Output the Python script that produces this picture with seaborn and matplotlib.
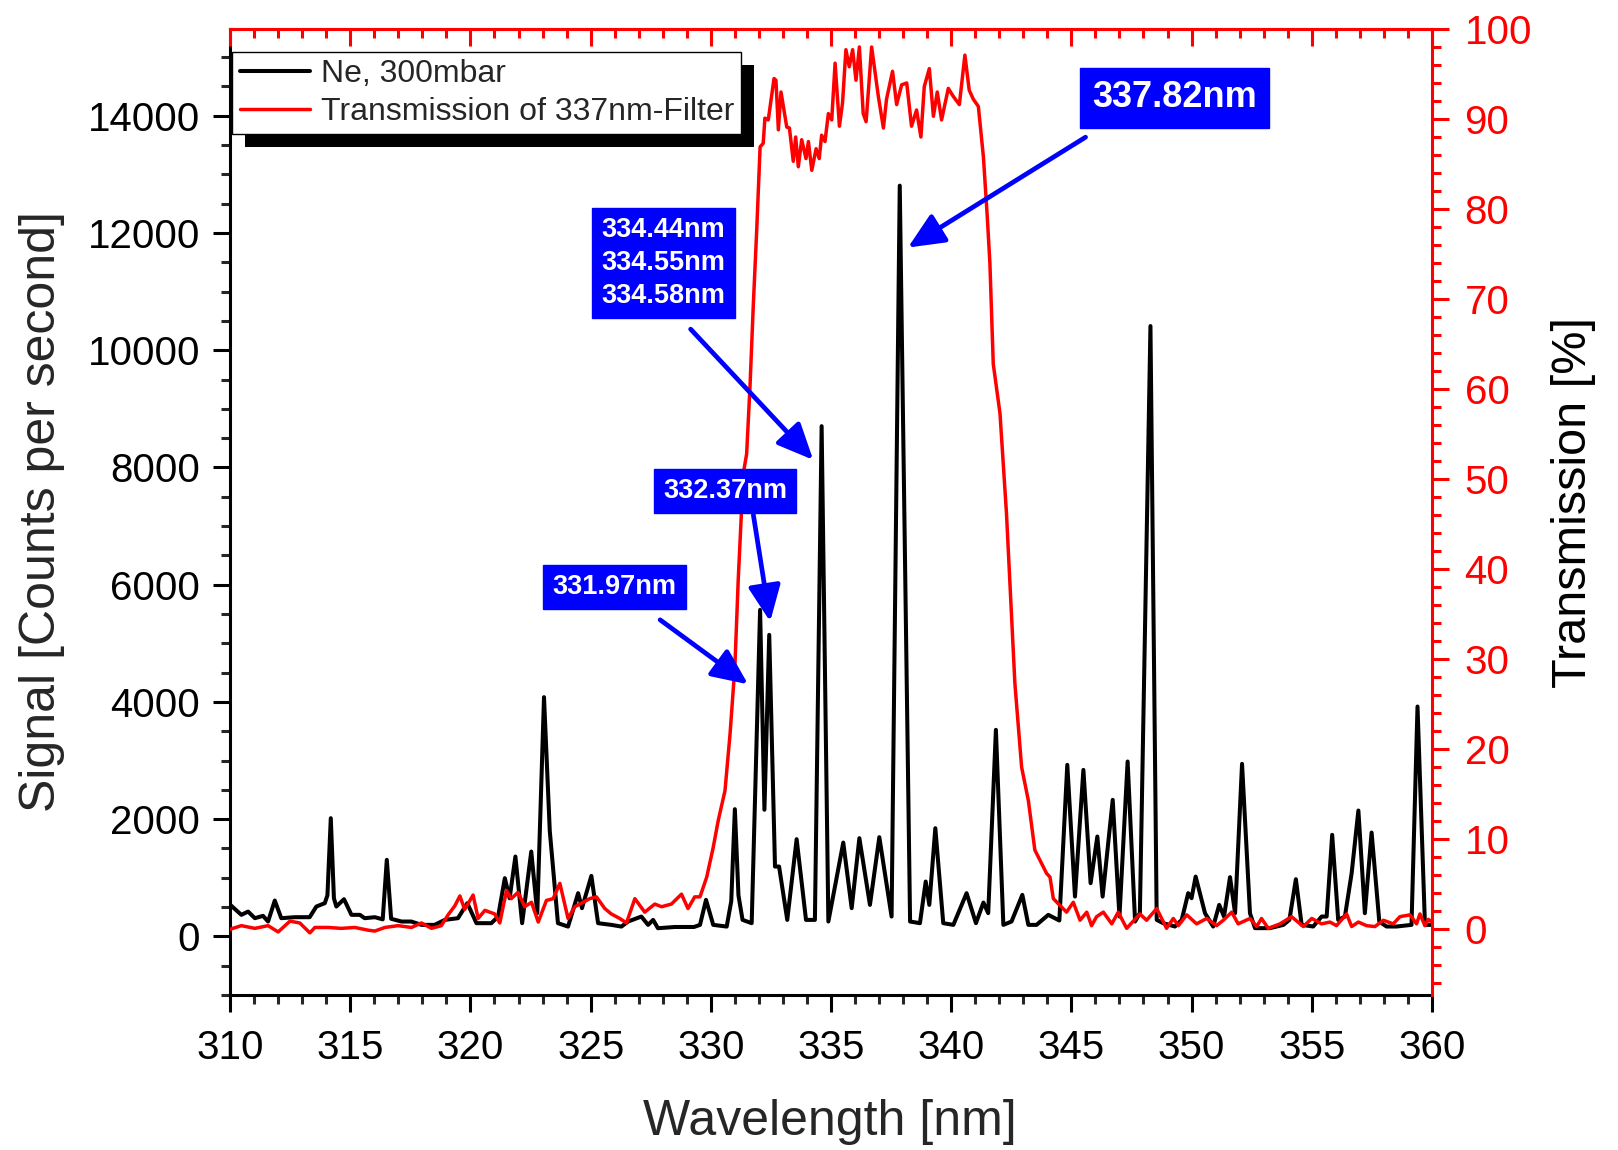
import matplotlib
matplotlib.use("Agg")
import numpy as np
import pandas as pd
import matplotlib.pyplot as plt
import seaborn as sns
from matplotlib.patches import Rectangle
from matplotlib.transforms import IdentityTransform
from matplotlib.ticker import MultipleLocator
from matplotlib.lines import Line2D

# ---------------- data ----------------
ne_wavelength = [310.0, 310.47, 310.75, 311.03, 311.37, 311.58, 311.86, 312.13, 312.69, 313.31,
                 313.59, 313.94, 314.05, 314.19, 314.32, 314.42, 314.74, 315.05, 315.4, 315.6,
                 316.02, 316.35, 316.52, 316.7, 317.13, 317.54, 317.96, 318.51, 318.93, 319.48,
                 319.87, 320.25, 320.87, 321.15, 321.43, 321.63, 321.87, 322.15, 322.53, 322.78,
                 323.06, 323.3, 323.64, 324.06, 324.48, 324.64, 325.03, 325.31, 325.86, 326.28,
                 326.56, 327.11, 327.39, 327.6, 327.8, 328.5, 329.3, 329.55, 329.8, 330.1,
                 330.66, 330.85, 331.0, 331.15, 331.32, 331.7, 332.05, 332.23, 332.43, 332.67,
                 332.84, 333.18, 333.57, 333.96, 334.33, 334.61, 334.89, 335.51, 335.86, 336.18,
                 336.62, 337.01, 337.52, 337.86, 338.29, 338.7, 338.94, 339.09, 339.34, 339.67,
                 340.09, 340.64, 341.03, 341.34, 341.54, 341.86, 342.17, 342.51, 342.96, 343.21,
                 343.55, 344.04, 344.5, 344.83, 345.15, 345.5, 345.8, 346.08, 346.3, 346.72,
                 347.0, 347.34, 347.65, 347.85, 348.29, 348.55, 348.82, 349.31, 349.59, 349.86,
                 350.0, 350.17, 350.56, 350.9, 351.15, 351.35, 351.6, 351.81, 352.1, 352.43,
                 352.64, 353.26, 353.82, 354.07, 354.34, 354.58, 355.06, 355.41, 355.62, 355.85,
                 356.1, 356.38, 356.66, 356.94, 357.21, 357.49, 357.81, 358.11, 358.53, 359.15,
                 359.4, 359.71, 360.0]
ne_signal = [540, 367, 423, 310, 350, 253, 611, 310, 327, 327,
             509, 566, 700, 2016, 650, 509, 634, 367, 367, 310,
             327, 290, 1305, 300, 253, 253, 196, 196, 281, 310,
             566, 225, 225, 338, 993, 651, 1362, 225, 1447, 396,
             4081, 1800, 225, 167, 737, 481, 1032, 225, 196, 167,
             253, 338, 196, 281, 139, 160, 160, 196, 623, 196,
             167, 600, 2170, 700, 281, 225, 5570, 2160, 5144, 1191,
             1191, 281, 1658, 281, 281, 8704, 253, 1600, 481, 1675,
             537, 1692, 338, 12807, 253, 225, 935, 537, 1845, 225,
             196, 737, 225, 577, 396, 3523, 196, 253, 708, 196,
             196, 367, 270, 2926, 679, 2840, 907, 1703, 679, 2329,
             338, 2983, 253, 400, 10412, 281, 225, 168, 281, 737,
             651, 1020, 395, 168, 537, 338, 1010, 395, 2943, 395,
             140, 140, 196, 281, 975, 196, 168, 338, 338, 1732,
             281, 338, 1078, 2147, 395, 1771, 253, 168, 168, 196,
             3921, 196, 196]

filter_wavelength = [310.0, 310.47, 311.03, 311.58, 312.0, 312.49, 312.9, 313.32, 313.53, 314.08,
                     314.63, 315.19, 315.74, 316.02, 316.44, 316.99, 317.55, 317.96, 318.38, 318.79,
                     319.07, 319.35, 319.56, 319.76, 320.11, 320.32, 320.6, 321.01, 321.22, 321.5,
                     321.7, 321.98, 322.26, 322.54, 322.82, 323.16, 323.44, 323.72, 324.06, 324.34,
                     324.69, 324.96, 325.24, 325.59, 325.86, 326.21, 326.49, 326.84, 327.25, 327.67,
                     327.95, 328.36, 328.78, 329.05, 329.33, 329.55, 329.83, 330.1, 330.31, 330.59,
                     330.8, 331.0, 331.14, 331.35, 331.49, 331.63, 331.77, 331.91, 332.05, 332.18,
                     332.25, 332.39, 332.63, 332.71, 332.81, 332.92, 333.16, 333.27, 333.43, 333.53,
                     333.64, 333.78, 333.96, 334.06, 334.2, 334.38, 334.51, 334.61, 334.75, 334.89,
                     335.03, 335.17, 335.35, 335.48, 335.62, 335.76, 335.9, 336.04, 336.18, 336.34,
                     336.46, 336.69, 336.97, 337.18, 337.31, 337.56, 337.73, 337.94, 338.15, 338.35,
                     338.56, 338.74, 338.88, 339.09, 339.26, 339.42, 339.6, 339.88, 340.09, 340.34,
                     340.57, 340.75, 340.92, 341.13, 341.34, 341.5, 341.61, 341.75, 342.03, 342.3,
                     342.65, 342.93, 343.21, 343.48, 343.97, 344.11, 344.25, 344.8, 345.08, 345.36,
                     345.64, 345.84, 346.05, 346.33, 346.68, 346.95, 347.3, 347.85, 348.13, 348.55,
                     348.96, 349.24, 349.45, 349.8, 350.21, 350.63, 351.04, 351.32, 351.67, 351.94,
                     352.43, 352.71, 352.91, 353.19, 353.68, 354.16, 354.65, 355.0, 355.41, 355.76,
                     356.03, 356.45, 356.66, 356.94, 357.28, 357.63, 357.98, 358.39, 358.67, 359.09,
                     359.36, 359.5, 359.71, 359.85, 360.0]
filter_transmission = [0.0, 0.4, 0.1, 0.4, -0.3, 0.9, 0.7, -0.4, 0.2, 0.2,
                       0.1, 0.2, -0.1, -0.2, 0.2, 0.4, 0.2, 0.7, 0.1, 0.4,
                       1.6, 2.6, 3.7, 2.2, 3.8, 1.2, 2.1, 1.7, 0.7, 4.3,
                       3.4, 4.1, 2.5, 3.0, 0.8, 3.2, 3.4, 5.1, 1.2, 2.5,
                       3.0, 3.4, 3.6, 2.3, 1.7, 1.2, 0.7, 3.4, 1.9, 2.8,
                       2.5, 2.8, 3.9, 2.3, 3.6, 3.6, 5.8, 9.1, 12.1, 15.4,
                       21.7, 29.1, 38.8, 50.6, 52.8, 60.3, 69.5, 77.7, 86.9, 87.3,
                       90.1, 89.9, 94.5, 94.3, 88.8, 93.0, 89.1, 89.0, 85.3, 88.0,
                       84.7, 87.7, 85.6, 87.5, 84.3, 86.7, 85.6, 88.2, 87.5, 90.6,
                       89.9, 96.2, 89.2, 91.8, 97.7, 95.8, 97.7, 94.3, 98.0, 90.6,
                       89.7, 98.0, 92.5, 89.0, 92.2, 95.3, 91.6, 93.8, 94.0, 89.2,
                       91.0, 88.0, 93.6, 95.6, 90.3, 93.0, 89.9, 93.4, 92.5, 91.6,
                       97.1, 93.2, 92.2, 91.4, 85.8, 79.2, 74.0, 62.8, 57.3, 46.2,
                       27.3, 18.0, 14.3, 8.8, 6.2, 5.8, 3.4, 1.9, 3.0, 1.0,
                       1.9, 0.4, 1.4, 1.9, 0.6, 1.9, 0.1, 1.7, 1.0, 2.3,
                       0.1, 1.2, 0.4, 1.6, 0.6, 1.2, 0.4, 1.0, 1.9, 0.6,
                       1.2, 0.3, 1.2, 0.1, 0.6, 1.4, 0.3, 1.2, 0.6, 0.8,
                       0.4, 1.7, 0.3, 0.8, 0.4, 0.3, 1.0, 0.6, 1.4, 1.6,
                       0.6, 1.7, 0.4, 1.1, 0.8]

series_labels = ["Ne, 300mbar", "Transmission of 337nm-Filter"]

# annotation boxes: text, box centre (wavelength, signal), font size
note_texts = ["337.82nm", "334.44nm\n334.55nm\n334.58nm", "332.37nm", "331.97nm"]
note_box_x = [349.30, 328.03, 330.60, 326.00]
note_box_y = [14305, 11490, 7602, 5957]
note_sizes = [26, 19.5, 19.5, 19.5]
# arrows: start (wavelength, signal) -> tip (wavelength, signal)
arrow_start_x = [345.59, 329.16, 331.77, 327.89]
arrow_start_y = [13634, 10359, 7191, 5400]
arrow_tip_x = [338.20, 334.26, 332.47, 331.55]
arrow_tip_y = [11751, 8129, 5371, 4300]

# ---------------- style ----------------
sns.set_theme(style="ticks")
plt.rcParams["font.family"] = ["Liberation Sans", "DejaVu Sans"]
plt.rcParams["axes.linewidth"] = 2.2

fig = plt.figure(figsize=(16.18, 11.5), dpi=100)
ax = fig.add_axes([0.1422, 0.1348, 0.7428, 0.8400])

ne_df = pd.DataFrame({"Wavelength": ne_wavelength, "Signal": ne_signal})
tr_df = pd.DataFrame({"Wavelength": filter_wavelength, "Transmission": filter_transmission})

sns.lineplot(data=ne_df, x="Wavelength", y="Signal", ax=ax, color="black",
             lw=2.9, estimator=None, sort=False, legend=False)
ax2 = ax.twinx()
sns.lineplot(data=tr_df, x="Wavelength", y="Transmission", ax=ax2, color="red",
             lw=2.5, estimator=None, sort=False, legend=False)

ax.set_xlim(310, 360)
ax.set_ylim(-1000, 15480)
ax2.set_ylim(-7.3, 100)

ax.xaxis.set_major_locator(MultipleLocator(5))
ax.xaxis.set_minor_locator(MultipleLocator(1))
ax.set_yticks(np.arange(0, 14001, 2000))
ax.yaxis.set_minor_locator(MultipleLocator(500))
ax2.set_yticks(np.arange(0, 101, 10))
ax2.yaxis.set_minor_locator(MultipleLocator(2))

ax.tick_params(axis="x", which="major", direction="out", length=12.5, width=2.2,
               labelsize=29, pad=12, colors="black", top=False)
ax.tick_params(axis="x", which="minor", direction="out", length=6.5, width=2.2, top=False)
ax.tick_params(axis="y", which="major", direction="out", length=12.5, width=2.2,
               labelsize=29, pad=9, colors="black", right=False)
ax.tick_params(axis="y", which="minor", direction="out", length=6.5, width=2.2, right=False)
ax2.tick_params(axis="y", which="major", direction="out", length=12.5, width=2.2,
                labelsize=29, pad=11, colors="red")
ax2.tick_params(axis="y", which="minor", direction="out", length=6.5, width=2.2, colors="red")

for s in ["top", "right"]:
    ax.spines[s].set_visible(False)
for s in ["left", "bottom"]:
    ax2.spines[s].set_visible(False)
    ax.spines[s].set_color("black")
    ax.spines[s].set_linewidth(2.2)
ax2.spines["right"].set_color("red")
ax2.spines["top"].set_color("red")
ax2.spines["right"].set_linewidth(2.2)
ax2.spines["top"].set_linewidth(2.2)

# top axis: red inward ticks, no labels
sec = ax2.secondary_xaxis("top")
sec.xaxis.set_major_locator(MultipleLocator(5))
sec.xaxis.set_minor_locator(MultipleLocator(1))
sec.tick_params(axis="x", which="major", direction="in", length=12.5, width=2.2,
                colors="red", labeltop=False)
sec.tick_params(axis="x", which="minor", direction="in", length=6.5, width=2.2, colors="red")
sec.spines["top"].set_color("red")
sec.spines["top"].set_linewidth(2.2)

ax.set_xlabel("Wavelength [nm]", fontsize=36)
ax.set_ylabel("Signal [Counts per second]", fontsize=36)
ax2.set_ylabel("Transmission [%]", fontsize=35, color="black")
ax.xaxis.set_label_coords(0.499, -0.108)
ax.yaxis.set_label_coords(-0.137, 0.50)
ax2.yaxis.set_label_coords(1.099, 0.51)

# annotations
for t, bx, by, fs in zip(note_texts, note_box_x, note_box_y, note_sizes):
    ax2.text(bx, by, t, transform=ax.transData, ha="center", va="center",
             fontsize=fs, fontweight="bold", color="white", linespacing=1.35,
             multialignment="center", zorder=6,
             bbox=dict(boxstyle="square,pad=0.34", facecolor="#0000FF", edgecolor="#0000FF"))
for sx, sy, tx, ty in zip(arrow_start_x, arrow_start_y, arrow_tip_x, arrow_tip_y):
    ax2.annotate("", xy=(tx, ty), xytext=(sx, sy), xycoords=ax.transData,
                 textcoords=ax.transData, zorder=6,
                 arrowprops=dict(arrowstyle="-|>,head_length=1.0,head_width=0.45",
                                 color="#0000FF", lw=3.4, mutation_scale=22,
                                 shrinkA=0, shrinkB=0))

# legend with solid black drop shadow
handles = [Line2D([], [], color="black", lw=2.9), Line2D([], [], color="red", lw=2.5)]
leg = ax2.legend(handles, series_labels, loc="upper left", bbox_to_anchor=(0.002, 0.976),
                 fontsize=23, frameon=True, fancybox=False, edgecolor="black",
                 framealpha=1, borderpad=0.22, labelspacing=0.24, handlelength=2.2,
                 handletextpad=0.35, borderaxespad=0, handleheight=0.6)
leg.get_frame().set_linewidth(1.0)
leg.set_zorder(7)

fig.canvas.draw()
bb = leg.get_window_extent()
shadow = Rectangle((bb.x0 + 13, bb.y0 - 13), bb.width, bb.height, transform=IdentityTransform(),
                   facecolor="black", edgecolor="none", zorder=6.9, clip_on=False)
ax2.add_artist(shadow)

fig.savefig("out.png", dpi=100)
